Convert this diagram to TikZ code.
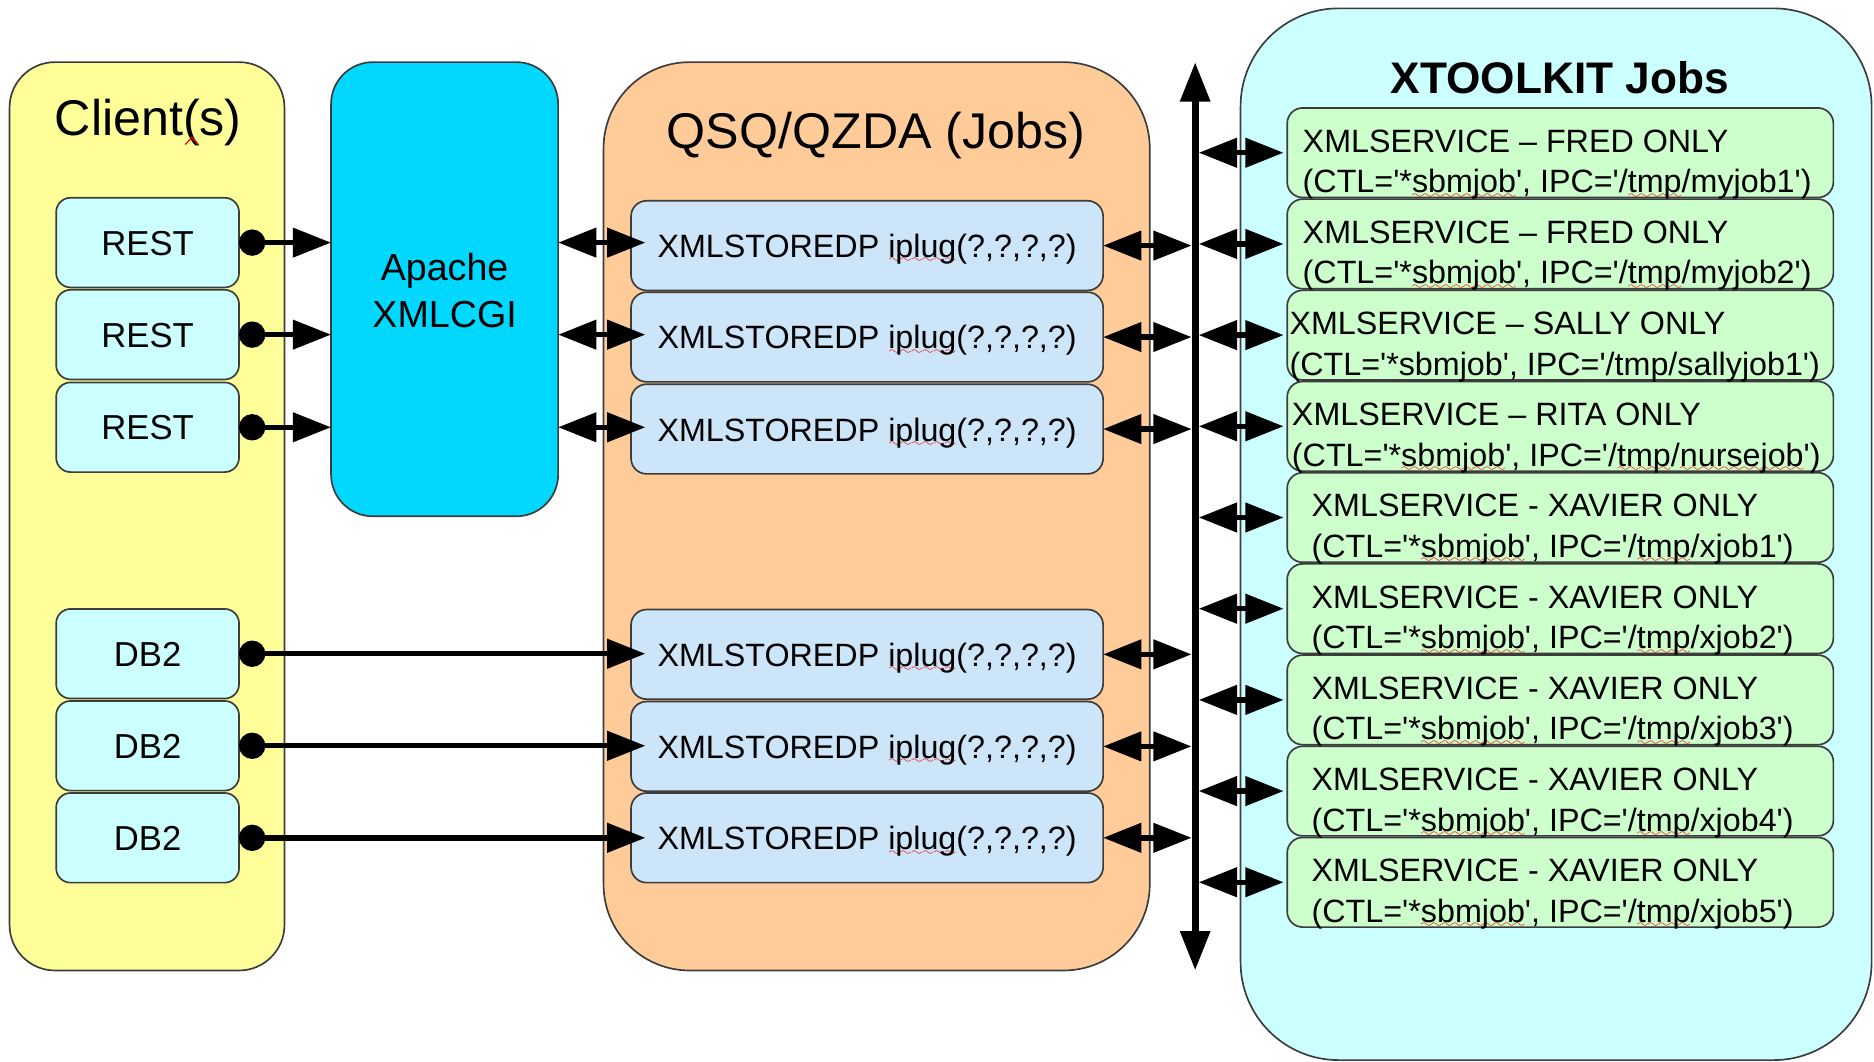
\documentclass[tikz,border=0pt]{standalone}
\usepackage{fontspec}
\setmainfont{Liberation Sans}
\usetikzlibrary{arrows.meta,calc}
\font\wavefont=lasy6 at 10pt
\newsavebox\rwbox
\newcommand\rw[1]{\sbox\rwbox{#1}\rlap{\lower4.5pt\hbox to\wd\rwbox{\color{red}\xleaders\hbox{\wavefont\char58}\hfill}}\usebox\rwbox}
\newcommand\q{\textquotesingle}
\newcommand\ctl[1]{(CTL=\q*\rw{sbmjob}\q, IPC=\q/\rw{tmp}/#1\q)}
\newcommand\ctlplain[1]{(CTL=\q*sbmjob\q, IPC=\q/tmp/#1\q)}
\newcommand\fTitle{\fontsize{42}{50}\selectfont}
\newcommand\fXt{\fontsize{37}{44}\selectfont\bfseries}
\newcommand\fMid{\fontsize{29}{34}\selectfont}
\newcommand\fApa{\fontsize{31.5}{38}\selectfont}
\newcommand\fXs{\fontsize{27}{32}\selectfont}
\definecolor{bordercol}{HTML}{3C3C3C}
\definecolor{clientfill}{HTML}{FFFF99}
\definecolor{apachefill}{HTML}{00D8FF}
\definecolor{qsqfill}{HTML}{FFCC99}
\definecolor{restfill}{HTML}{CCFFFF}
\definecolor{xsfill}{HTML}{CCE5F9}
\definecolor{xtfill}{HTML}{CCFFFF}
\definecolor{xmfill}{HTML}{CCFFCC}
\tikzset{
  myTri/.tip={Triangle[length=32pt,width=24pt]},
  myBus/.tip={Triangle[length=33pt,width=24pt]},
  myDot/.tip={Circle[length=22pt]},
}
\begin{document}
\begin{tikzpicture}[x=1pt,y=-1pt,
  bx/.style={draw=bordercol, line width=1.4pt, inner sep=0pt, outer sep=0pt},
  smallbox/.style={bx, rounded corners=12pt, minimum width=153pt, minimum height=75pt, fill=restfill, font=\fMid, text height=21pt, text depth=0pt},
  xsbox/.style={bx, rounded corners=13pt, minimum width=395pt, minimum height=75pt, fill=xsfill, font=\fXs, text height=20pt, text depth=0pt},
  xmbox/.style={bx, rounded corners=13pt, minimum width=457pt, minimum height=75pt, fill=xmfill},
  txt/.style={inner sep=0pt, outer sep=0pt},
  conn/.style={line width=4.5pt, black},
]
\useasboundingbox (0,0) rectangle (1568,888);

% containers
\node[bx, fill=clientfill, rounded corners=38pt, minimum width=230pt, minimum height=760pt] (client) at (123,432) {};
\node[bx, fill=apachefill, rounded corners=35pt, minimum width=190pt, minimum height=380pt] (apache) at (372,242) {};
\node[bx, fill=qsqfill, rounded corners=72pt, minimum width=457pt, minimum height=760pt] (qsq) at (733.5,432) {};
\node[bx, fill=xtfill, rounded corners=82pt, minimum width=528pt, minimum height=880pt] (xt) at (1302,447) {};

% titles
\node[txt, font=\fTitle, anchor=base] (clienttitle) at (124,113) {Client(s)};
\node[txt, font=\fTitle, anchor=base] (qsqtitle) at (733,124) {QSQ/QZDA (Jobs)};
\node[txt, font=\fXt, anchor=base] (xttitle) at (1305,78) {XTOOLKIT Jobs};
\node[txt, font=\fApa, anchor=base] (apache1) at (372,235) {Apache};
\node[txt, font=\fApa, anchor=base] (apache2) at (372,274) {XMLCGI};
\draw[red, line width=1pt] (155,121) -- (160.5,115) -- (166,121);

% client boxes
\node[smallbox] (rest1) at (123.5,203) {REST};
\node[smallbox] (rest2) at (123.5,280) {REST};
\node[smallbox] (rest3) at (123.5,357.5) {REST};
\node[smallbox] (db1) at (123.5,547) {DB2};
\node[smallbox] (db2) at (123.5,624) {DB2};
\node[smallbox] (db3) at (123.5,701) {DB2};

% XMLSTOREDP boxes
\node[xsbox] (xs1) at (725.5,205.5) {XMLSTOREDP \rw{iplug}(?,?,?,?)};
\node[xsbox] (xs2) at (725.5,282) {XMLSTOREDP \rw{iplug}(?,?,?,?)};
\node[xsbox] (xs3) at (725.5,359) {XMLSTOREDP \rw{iplug}(?,?,?,?)};
\node[xsbox] (xs4) at (725.5,547.5) {XMLSTOREDP \rw{iplug}(?,?,?,?)};
\node[xsbox] (xs5) at (725.5,624.5) {XMLSTOREDP \rw{iplug}(?,?,?,?)};
\node[xsbox] (xs6) at (725.5,701) {XMLSTOREDP \rw{iplug}(?,?,?,?)};

% XMLSERVICE boxes
\foreach \i/\cy in {1/127.8,2/204.1,3/280.4,4/356.7,5/433.0,6/509.3,7/585.6,8/661.9,9/738.2}
  \node[xmbox] (xm\i) at (1305.5,\cy) {};

\node[txt, font=\fXs, anchor=base west] (xm1a) at (1090,127.3) {XMLSERVICE \textendash{} FRED ONLY};
\node[txt, font=\fXs, anchor=base west] (xm1b) at (1090,161.3) {\ctl{myjob1}};
\node[txt, font=\fXs, anchor=base west] (xm2a) at (1090,203.6) {XMLSERVICE \textendash{} FRED ONLY};
\node[txt, font=\fXs, anchor=base west] (xm2b) at (1090,237.6) {\ctl{myjob2}};
\node[txt, font=\fXs, anchor=base west] (xm3a) at (1079,279.9) {XMLSERVICE \textendash{} SALLY ONLY};
\node[txt, font=\fXs, anchor=base west] (xm3b) at (1079,313.9) {\ctlplain{sallyjob1}};
\node[txt, font=\fXs, anchor=base west] (xm4a) at (1081,356.2) {XMLSERVICE \textendash{} RITA ONLY};
\node[txt, font=\fXs, anchor=base west] (xm4b) at (1081,390.2) {\ctl{\rw{nursejob}}};
\node[txt, font=\fXs, anchor=base west] (xm5a) at (1097.5,432.5) {XMLSERVICE - XAVIER ONLY};
\node[txt, font=\fXs, anchor=base west] (xm5b) at (1097.5,466.5) {\ctl{xjob1}};
\node[txt, font=\fXs, anchor=base west] (xm6a) at (1097.5,508.8) {XMLSERVICE - XAVIER ONLY};
\node[txt, font=\fXs, anchor=base west] (xm6b) at (1097.5,542.8) {\ctl{xjob2}};
\node[txt, font=\fXs, anchor=base west] (xm7a) at (1097.5,585.1) {XMLSERVICE - XAVIER ONLY};
\node[txt, font=\fXs, anchor=base west] (xm7b) at (1097.5,619.1) {\ctl{xjob3}};
\node[txt, font=\fXs, anchor=base west] (xm8a) at (1097.5,661.4) {XMLSERVICE - XAVIER ONLY};
\node[txt, font=\fXs, anchor=base west] (xm8b) at (1097.5,695.4) {\ctl{xjob4}};
\node[txt, font=\fXs, anchor=base west] (xm9a) at (1097.5,737.7) {XMLSERVICE - XAVIER ONLY};
\node[txt, font=\fXs, anchor=base west] (xm9b) at (1097.5,771.7) {\ctl{xjob5}};

% bus
\coordinate (bustop) at (1000,52);
\coordinate (busbot) at (1000,812);
\draw[line width=6pt, myBus-myBus] (bustop) -- (busbot);

% REST -> Apache
\foreach \r in {rest1,rest2,rest3}
  \draw[conn, myDot-myTri] (\r.east) -- (apache.west |- \r.east);
% Apache <-> XMLSTOREDP
\foreach \r/\x in {rest1/xs1,rest2/xs2,rest3/xs3}
  \draw[conn, myTri-myTri] (apache.east |- \r.east) -- ($(\x.west |- \r.east)+(12,0)$);
% DB2 -> XMLSTOREDP
\foreach \d/\x in {db1/xs4,db2/xs5,db3/xs6}
  \draw[conn, myDot-myTri] (\d.east) -- ($(\x.west |- \d.east)+(12,0)$);
% XMLSTOREDP <-> bus
\foreach \x in {xs1,xs2,xs3,xs4,xs5,xs6}
  \draw[conn, myTri-myTri] (\x.east) -- ($(bustop |- \x.east)+(-3,0)$);
% bus <-> XMLSERVICE
\foreach \i in {1,...,9}
  \draw[conn, myTri-myTri] ($(bustop |- xm\i.west)+(3,0)$) -- ($(xm\i.west)+(-3,0)$);
\end{tikzpicture}
\end{document}
